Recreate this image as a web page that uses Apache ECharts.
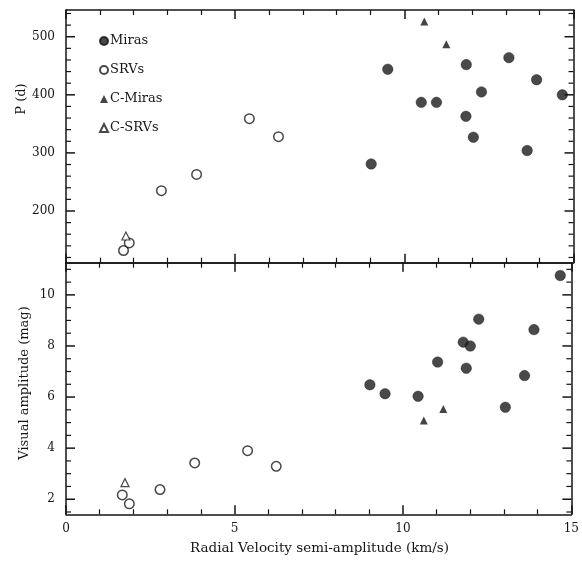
<!DOCTYPE html>
<html>
<head>
<meta charset="utf-8">
<script src="https://cdn.jsdelivr.net/npm/echarts@6/dist/echarts.min.js"></script>
<style>html,body{margin:0;padding:0;background:#fff}#c{width:582px;height:561px}</style>
</head>
<body>
<div id="c"></div>
<script>
// ---- data (velocity km/s, value) ----
var mirasP   = [[9.02,281],[9.51,444],[10.50,387],[10.95,387],[11.83,452],[11.82,363],[12.04,327],[12.28,405],[13.09,464],[13.63,304],[13.91,426],[14.67,400]];
var srvP     = [[1.70,132],[1.87,145],[2.82,235],[3.86,263],[5.42,359],[6.28,328]];
var cMirasP  = [[10.59,526],[11.24,487]];
var cSrvP    = [[1.77,157]];

var mirasAmp  = [[9.02,6.48],[9.47,6.13],[10.45,6.03],[11.03,7.37],[11.79,8.15],[12.00,8.00],[11.88,7.13],[12.25,9.05],[13.04,5.60],[13.61,6.84],[13.89,8.64],[14.67,10.76]];
var srvAmp    = [[1.67,2.17],[1.88,1.82],[2.79,2.38],[3.82,3.42],[5.39,3.90],[6.24,3.29]];
var cMirasAmp = [[10.62,5.08],[11.20,5.53]];
var cSrvAmp   = [[1.75,2.65]];

// ---- tick labels / tick values ----
var pMajor   = [200, 300, 400, 500];
var pMinor   = [120, 140, 160, 180, 220, 240, 260, 280, 320, 340, 360, 380, 420, 440, 460, 480, 520, 540];
var ampMajor = [2, 4, 6, 8, 10];
var ampMinor = [1.5, 2.5, 3, 3.5, 4.5, 5, 5.5, 6.5, 7, 7.5, 8.5, 9, 9.5, 10.5, 11];
var xTicks = [0, 15, 5];

var seriesNames = ['Miras','SRVs','C-Miras','C-SRVs'];
var xTitle = 'Radial Velocity semi-amplitude (km/s)';
var yTitleTop = 'P (d)';
var yTitleBottom = 'Visual amplitude (mag)';

var FONT = 'DejaVu Serif';
var INK = '#151515';
var pRange = [111, 546];
var ampRange = [1.41, 11.26];

// panel geometry (pixels)
var LEFT = 66, RIGHT = 8.5;
var TOP0 = 10, DIV = 262.7, BOT1 = 514.3;

var chart = echarts.init(document.getElementById('c'));

function xAx(grid, pos, showLabel) {
  return {
    type: 'value', gridIndex: grid, position: pos, min: xTicks[0], max: xTicks[1], interval: xTicks[2],
    axisLine: {show: true, onZero: false, lineStyle: {color: INK, width: 1.5}},
    axisTick: {show: true, inside: true, length: 9, lineStyle: {color: INK, width: 1.5}},
    minorTick: {show: true, splitNumber: 5, length: 5, lineStyle: {color: INK, width: 1.2}},
    axisLabel: {show: showLabel, fontFamily: FONT, fontSize: 12, color: INK, margin: 9},
    splitLine: {show: false}
  };
}
function yAx(grid, pos, range, labels) {
  return {
    type: 'value', gridIndex: grid, position: pos, min: range[0], max: range[1],
    axisLine: {show: true, onZero: false, lineStyle: {color: INK, width: 1.5}},
    axisTick: {show: false},
    axisLabel: {show: !!labels, customValues: labels || [], fontFamily: FONT, fontSize: 12, color: INK, margin: 11},
    splitLine: {show: false}
  };
}

// y tick marks drawn through the panel's own scale (inward, both sides)
function tickSeries(values, xi, yi, len, width) {
  return {
    type: 'custom', xAxisIndex: xi, yAxisIndex: yi, silent: true, clip: false, z: 3,
    data: values.map(function (v) { return [xTicks[0], v]; }),
    renderItem: function (params, api) {
      var v = api.value(1);
      var pL = api.coord([xTicks[0], v]);
      var pR = api.coord([xTicks[1], v]);
      return {
        type: 'group',
        children: [
          {type: 'line', shape: {x1: pL[0], y1: pL[1], x2: pL[0] + len, y2: pL[1]}, style: {stroke: INK, lineWidth: width}},
          {type: 'line', shape: {x1: pR[0], y1: pR[1], x2: pR[0] - len, y2: pR[1]}, style: {stroke: INK, lineWidth: width}}
        ]
      };
    }
  };
}

function filledCircle(name, data, xi, yi) {
  return {name: name, type: 'scatter', xAxisIndex: xi, yAxisIndex: yi, data: data,
          symbol: 'circle', symbolSize: 10.5,
          itemStyle: {color: '#1c1c1c', borderColor: '#111', borderWidth: 0.5}};
}
function openCircle(name, data, xi, yi) {
  return {name: name, type: 'scatter', xAxisIndex: xi, yAxisIndex: yi, data: data,
          symbol: 'circle', symbolSize: 9.5,
          itemStyle: {color: '#ffffff', borderColor: '#1a1a1a', borderWidth: 1.5}};
}
function filledTri(name, data, xi, yi) {
  return {name: name, type: 'scatter', xAxisIndex: xi, yAxisIndex: yi, data: data,
          symbol: 'triangle', symbolSize: 8,
          itemStyle: {color: '#151515'}};
}
function openTri(name, data, xi, yi) {
  return {name: name, type: 'scatter', xAxisIndex: xi, yAxisIndex: yi, data: data,
          symbol: 'triangle', symbolSize: 8,
          itemStyle: {color: '#ffffff', borderColor: '#1a1a1a', borderWidth: 1.2}};
}

var option = {
  backgroundColor: '#ffffff',
  animation: false,
  grid: [
    {left: LEFT, right: RIGHT, top: TOP0, height: DIV - TOP0},
    {left: LEFT, right: RIGHT, top: DIV, height: BOT1 - DIV}
  ],
  xAxis: [xAx(0, 'bottom', false), xAx(0, 'top', false), xAx(1, 'bottom', true), xAx(1, 'top', false)],
  yAxis: [yAx(0, 'left', pRange, pMajor), yAx(0, 'right', pRange, null),
          yAx(1, 'left', ampRange, ampMajor), yAx(1, 'right', ampRange, null)],
  legend: {
    data: seriesNames, orient: 'vertical', left: 94, top: 28,
    itemWidth: 8, itemHeight: 8, itemGap: 13,
    textStyle: {fontFamily: FONT, fontSize: 13, color: INK, lineHeight: 16, padding: [0,0,0,-3]},
    selectedMode: false
  },
  graphic: [
    {type: 'text', x: 21.5, y: 99, rotation: Math.PI / 2,
     style: {text: yTitleTop, font: '13px "DejaVu Serif"', fill: INK, align: 'center', verticalAlign: 'middle'}},
    {type: 'text', x: 24.5, y: 383, rotation: Math.PI / 2,
     style: {text: yTitleBottom, font: '13px "DejaVu Serif"', fill: INK, align: 'center', verticalAlign: 'middle'}},
    {type: 'text', x: 319.5, y: 548,
     style: {text: xTitle, font: '13.5px "DejaVu Serif"', fill: INK, align: 'center', verticalAlign: 'middle'}}
  ],
  series: [
    tickSeries(pMajor, 0, 0, 9, 1.5),
    tickSeries(pMinor, 0, 0, 5, 1.2),
    tickSeries(ampMajor, 2, 2, 9, 1.5),
    tickSeries(ampMinor, 2, 2, 5, 1.2),
    filledCircle('Miras', mirasP, 0, 0),
    openCircle('SRVs', srvP, 0, 0),
    filledTri('C-Miras', cMirasP, 0, 0),
    openTri('C-SRVs', cSrvP, 0, 0),
    filledCircle('Miras', mirasAmp, 2, 2),
    openCircle('SRVs', srvAmp, 2, 2),
    filledTri('C-Miras', cMirasAmp, 2, 2),
    openTri('C-SRVs', cSrvAmp, 2, 2)
  ]
};
chart.setOption(option);
</script>
</body>
</html>
